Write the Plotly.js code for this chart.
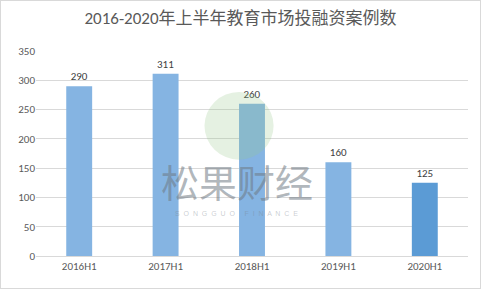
<!DOCTYPE html>
<html><head><meta charset="utf-8">
<script src="https://cdn.plot.ly/plotly-3.0.1.min.js"></script>
<style>html,body{margin:0;padding:0;background:#fff}#c{width:481px;height:289px;box-sizing:border-box;border:1px solid #d9d9d9}</style>
</head><body><div id="c"></div>
<script>
const categories = ["2016H1","2017H1","2018H1","2019H1","2020H1"];
const values = [290, 311, 260, 160, 125];
const barColors = ["#85b4e2","#85b4e2","#85b4e2","#85b4e2","#5b9bd5"];
const yTicks = [0,50,100,150,200,250,300,350];
const titleText = "2016-2020年上半年教育市场投融资案例数";

const font = "Calibri, Carlito, 'Noto Sans CJK SC', 'Liberation Sans', sans-serif";
Plotly.newPlot("c", [{
  type: "bar", x: categories, y: values,
  marker: {color: barColors},
  text: values.map(String), textposition: "outside", cliponaxis: false,
  textfont: {size: 11, color: "#404040", family: font},
  hoverinfo: "none"
}], {
  width: 479, height: 287,
  margin: {l: 35, r: 12, t: 50, b: 32},
  paper_bgcolor: "#fff", plot_bgcolor: "#fff",
  bargap: 0.7,
  showlegend: false,
  title: {text: titleText, font: {size: 17, color: "#595959", family: font}, x: 0.5, xanchor: "center", y: 0.96, yanchor: "top"},
  xaxis: {tickfont: {size: 11, color: "#595959", family: font}, showline: true, linecolor: "#d9d9d9", showgrid: false, ticks: ""},
  yaxis: {range: [0, 350], tickvals: yTicks, tickfont: {size: 11, color: "#595959", family: font},
          showgrid: true, gridcolor: "#d9d9d9", zeroline: false, showline: false, ticks: ""},
  annotations: [
    {text: "松果财经", xref: "paper", yref: "paper", x: 0.465, y: 0.37, yanchor: "middle", showarrow: false,
     font: {size: 38, color: "rgba(110,120,130,0.55)", family: "'Noto Sans CJK SC', sans-serif"}},
    {text: "S  O  N  G  G  U  O     F  I  N  A  N  C  E", xref: "paper", yref: "paper", x: 0.465, y: 0.205, yanchor: "middle", showarrow: false,
     font: {size: 7, color: "rgba(120,130,140,0.4)", family: "'Liberation Sans', sans-serif"}}
  ],
  shapes: [
    {type: "circle", xref: "paper", yref: "paper", x0: 0.39, x1: 0.55, y0: 0.47, y1: 0.80,
     fillcolor: "rgba(150,200,140,0.25)", line: {width: 0}, layer: "above"}
  ]
}, {staticPlot: true});
</script></body></html>
